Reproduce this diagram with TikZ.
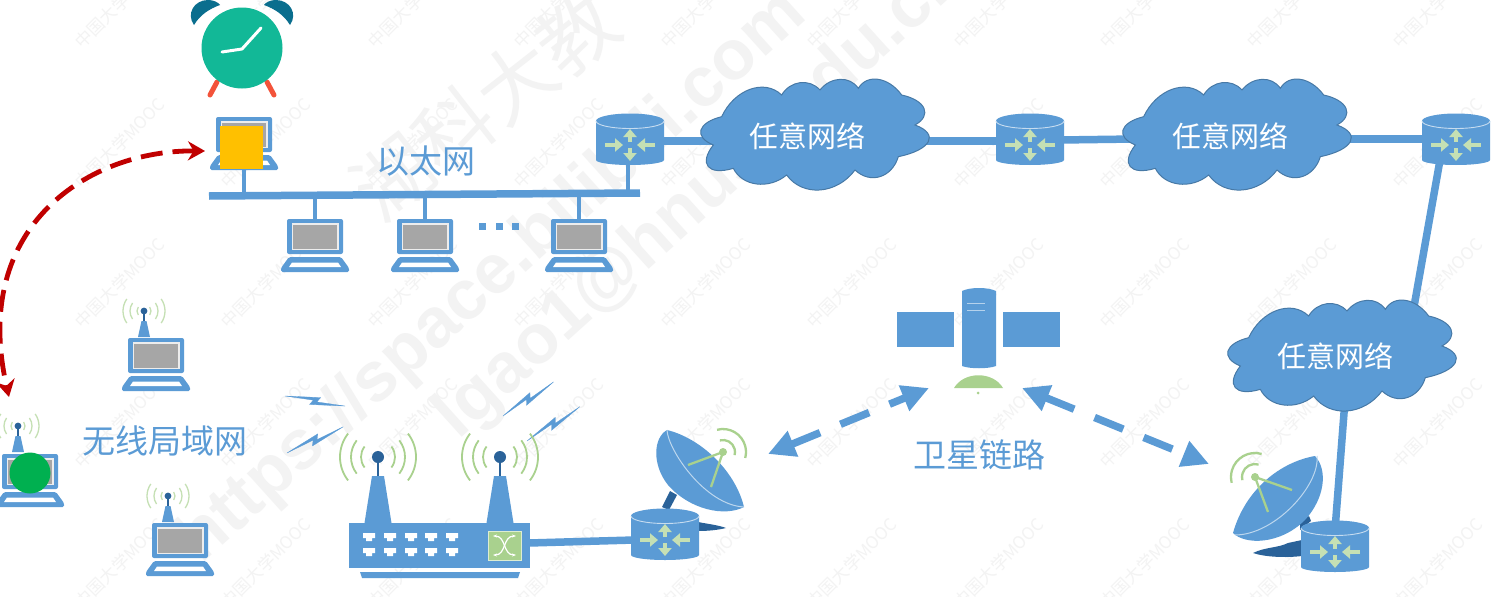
\documentclass[tikz,border=0pt]{standalone}
\usepackage{fontspec}
\setmainfont{Noto Sans CJK SC}
\newfontfamily\wmlatin{Liberation Sans}
\usetikzlibrary{arrows.meta,calc}
\definecolor{netblue}{HTML}{5B9BD5}
\definecolor{darkblue}{HTML}{2A6299}
\definecolor{leaf}{HTML}{A9D18E}
\definecolor{paleleaf}{HTML}{C5E0B4}
\definecolor{screen}{HTML}{A6A6A6}
\definecolor{wm}{HTML}{F3F3F3}
\definecolor{wmsmall}{HTML}{F3F3F3}
\definecolor{darkred}{HTML}{C00000}
\definecolor{amber}{HTML}{FFC000}
\definecolor{hostgreen}{HTML}{00B050}
\definecolor{bellblue}{HTML}{0A6E8E}
\definecolor{footred}{HTML}{F3533A}
\definecolor{clockteal}{HTML}{12B897}
\tikzset{
  link/.style={draw=netblue,line width=7.5pt},
  thinlink/.style={draw=netblue,line width=4.5pt},
  anchorbox/.style={inner sep=0pt,outer sep=0pt,minimum width=60pt},
  cloudtext/.style={inner sep=0pt,text=white,font=\fontsize{29}{31}\selectfont},
  lbl/.style={text=netblue,font=\fontsize{33}{35}\selectfont,inner sep=0pt},
  satlink/.style={draw=netblue,line width=7.5pt,dash pattern=on 31pt off 22pt,{Triangle[length=27pt,width=26pt]}-{Triangle[length=27pt,width=26pt]}},
  moved/.style={draw=darkred,line width=4.8pt,dash pattern=on 22pt off 10pt,{Stealth[length=17pt,width=19pt]}-{Stealth[length=17pt,width=19pt]}},
  sigstrong/.style={draw=leaf,line width=1.8pt},
  sigpale/.style={draw=paleleaf,line width=1.3pt},
  feed/.style={draw=leaf,line width=2.3pt},
  arrowmark/.style={draw=paleleaf,line width=3.5pt,-{Triangle[length=8pt,width=13pt]}},
  boltshape/.style={fill=netblue,draw=netblue,line width=.3pt},
  wmbig/.style={text=wm,font=\wmlatin\bfseries\fontsize{70}{72}\selectfont,rotate=42,inner sep=0pt},
  wmcjk/.style={text=wm,font=\fontsize{78}{80}\selectfont,rotate=38,inner sep=0pt},
  wmtiny/.style={text=wmsmall,font=\fontsize{17}{19}\selectfont,rotate=45,inner sep=0pt},
}
\newcommand{\lobe}[3]{.. controls ($1.3333*(#2)+0.0833*(#1)-0.4167*(#3)$) and ($1.3333*(#2)-0.4167*(#1)+0.0833*(#3)$) .. (#3)}
\newcommand{\cloudat}[2]{%
  \filldraw[fill=netblue,draw=netblue!78!black,line width=1pt,shift={(#1,#2)},scale=1/3]
    (365,350)
    \lobe{365,350}{450,268}{545,285}
    \lobe{545,285}{600,248}{660,270}
    \lobe{660,270}{720,238}{775,265}
    \lobe{775,265}{835,238}{905,285}
    \lobe{905,285}{972,325}{945,375}
    \lobe{945,375}{985,425}{895,470}
    \lobe{895,470}{840,530}{765,510}
    \lobe{765,510}{660,570}{560,525}
    \lobe{560,525}{470,552}{400,505}
    \lobe{400,505}{325,500}{340,435}
    \lobe{340,435}{303,390}{365,350}
    -- cycle;}
\newcommand{\lapicon}[2]{% cx, top
  \begin{scope}[shift={(#1,#2)}]
    \fill[netblue,rounded corners=2pt] (-28,0) rectangle (28,35);
    \fill[white!80!screen] (-23.5,4) rectangle (23.5,31);
    \fill[screen] (-22,5.5) rectangle (22,29.5);
    \fill[netblue,rounded corners=1.5pt] (-26,38) -- (26,38) -- (34,49) -- (34,53) -- (-34,53) -- (-34,49) -- cycle;
    \fill[white] (-23,43.5) -- (23,43.5) -- (26,48) -- (-26,48) -- cycle;
  \end{scope}}
\newcommand{\wifitop}[2]{% ball x, ball y
  \begin{scope}[shift={(#1,#2)}]
    \foreach \r in {7,14,21}{
      \draw[sigpale] (35:\r) arc[start angle=35,end angle=-35,radius=\r];
      \draw[sigpale] (145:\r) arc[start angle=145,end angle=215,radius=\r];
    }
    \draw[darkblue,line width=1.6pt] (0,0) -- (0,12);
    \fill[netblue] (-2.5,10) -- (2.5,10) -- (6,26) -- (-6,26) -- cycle;
    \fill[darkblue] (0,0) circle (3.4);
  \end{scope}}
\newcommand{\routericon}[2]{% cx, cy
  \begin{scope}[shift={(#1,#2)}]
    \fill[netblue] (-34,-18) -- (-34,21) arc[start angle=180,end angle=0,x radius=34,y radius=5] -- (34,-18) arc[start angle=0,end angle=-180,x radius=34,y radius=7.5] -- cycle;
    \draw[white!65!netblue,line width=.9pt] (-34,-18) arc[start angle=180,end angle=0,x radius=34,y radius=7.5];
    \draw[arrowmark] (0,3) -- (0,-10);
    \draw[arrowmark] (0,9) -- (0,22);
    \draw[arrowmark] (-25,6) -- (-7,6);
    \draw[arrowmark] (25,6) -- (7,6);
  \end{scope}}
\newcommand{\boltat}[4]{% x, y, rot, scale
  \fill[boltshape,shift={(#1,#2)},rotate=#3,scale=#4]
    (0,0) -- (58,-7) -- (53,1) -- (100,0) -- (42,7) -- (47,-1) -- cycle;}
\begin{document}
\begin{tikzpicture}[x=1pt,y=-1pt]
\useasboundingbox (0,0) rectangle (1500,597);
\fill[white] (0,0) rectangle (1500,597);
% watermark: small marks
\foreach \cx in {120,266,413,559,706,852,999,1145,1292,1438}{
  \foreach \cy in {3,143,283,423,563}{
    \node[wmtiny] (wm\cx\cy) at (\cx,\cy) {中国大学MOOC};
  }
}
% watermark: large
\node[wmcjk] (wma) at (485,105) {湖科大教};
\node[wmbig] (wmb) at (493,278) {https://space.bilibili.com};
\node[wmbig] (wmc) at (702,197) {lgao1@hnust.edu.cn};

% reference nodes
\node[anchorbox] (lapA) at (244,143) {};
\node[anchorbox] (lapB) at (315,245) {};
\node[anchorbox] (lapC) at (425,245) {};
\node[anchorbox] (lapD) at (579,245) {};
\node[anchorbox] (r1) at (630,139) {};
\node[anchorbox] (r2) at (1030,139) {};
\node[anchorbox] (r3) at (1456,139) {};
\node[anchorbox] (r4) at (665,534) {};
\node[anchorbox] (r5) at (1335,546) {};
\node[anchorbox] (sw) at (440,545) {};
\node[anchorbox] (sat) at (978,340) {};
\coordinate (busL) at (209,196);
\coordinate (busR) at (640,193);
\coordinate (lapAb) at (244,168);
\coordinate (lapBt) at (315,219);
\coordinate (lapCt) at (425,219);
\coordinate (lapDt) at (579,219);
\coordinate (busA) at (244,196);
\coordinate (busB) at (315,195);
\coordinate (busC) at (425,195);
\coordinate (busD) at (579,194);
\coordinate (busR1) at (628,194);
\coordinate (r1b) at (628,163);
\coordinate (r1r) at (660,141);
\coordinate (c1l) at (715,141);
\coordinate (c1r) at (915,141);
\coordinate (r2l) at (1000,141);
\coordinate (r2r) at (1060,140);
\coordinate (c2l) at (1135,139);
\coordinate (c2r) at (1340,139);
\coordinate (r3l) at (1426,139);
\coordinate (r3b) at (1440,160);
\coordinate (c3t) at (1412,318);
\coordinate (c3b) at (1345,400);
\coordinate (r5t) at (1335,530);
\coordinate (swr) at (529,543);
\coordinate (r4l) at (634,540);
\coordinate (satL) at (929,388);
\coordinate (satR) at (1022,388);
\coordinate (dishLs) at (768,454);
\coordinate (dishRs) at (1209,464);
\coordinate (redA) at (205,151);
\coordinate (redB) at (9,397);

% connectors
\draw[link] (busL) -- (busR);
\draw[thinlink] (lapAb) -- (busA);
\draw[thinlink] (busB) -- (lapBt);
\draw[thinlink] (busC) -- (lapCt);
\draw[thinlink] (busD) -- (lapDt);
\draw[thinlink] (busR1) -- (r1b);
\draw[link] (r1r) -- (c1l);
\draw[link] (c1r) -- (r2l);
\draw[link] (r2r) -- (c2l);
\draw[link] (c2r) -- (r3l);
\draw[link] (r3b) -- (c3t);
\draw[link] (c3b) -- (r5t);
\draw[link] (swr) -- (r4l);

% clouds
\cloudat{600}{0}
\cloudat{1022}{0}
\cloudat{1127}{221}
\node[cloudtext] (c1) at (807,136) {任意网络};
\node[cloudtext] (c2) at (1230,136) {任意网络};
\node[cloudtext] (c3) at (1335,356) {任意网络};

% laptops
\lapicon{244}{117}
\lapicon{315}{219}
\lapicon{425}{219}
\lapicon{579}{219}
\lapicon{156}{338}
\lapicon{30}{454}
\lapicon{180}{523}
\wifitop{144}{311}
\wifitop{18}{426}
\wifitop{168}{496}
\fill[netblue] (479,223) rectangle (486,230);
\fill[netblue] (496,223) rectangle (503,230);
\fill[netblue] (512,223) rectangle (519,230);

% routers
\routericon{630}{139}
\routericon{1030}{139}
\routericon{1456}{139}

% markers
\fill[amber] (220,126) rectangle (263,169);
\fill[hostgreen] (30,473) circle (20.5);

% clock
\fill[bellblue] (194,25) .. controls (186,14) and (194,0) .. (208,0) .. controls (213,0) and (218,2) .. (220,5) .. controls (209,9) and (200,15) .. cycle;
\fill[bellblue] (290,25) .. controls (298,14) and (290,0) .. (276,0) .. controls (271,0) and (266,2) .. (264,5) .. controls (275,9) and (284,15) .. cycle;
\draw[footred,line width=5pt,line cap=round] (217,82) -- (210,95);
\draw[footred,line width=5pt,line cap=round] (267,82) -- (274,95);
\fill[clockteal] (242,48) circle (40.5);
\draw[white,line width=3pt,line cap=round,line join=round] (222,52) -- (242,49) -- (261,28);

% lightning
\boltat{285}{396}{-9.5}{.61}
\boltat{287}{453}{25}{.62}
\boltat{503}{416}{34}{.61}
\boltat{527}{441}{33}{.63}

% switch
\foreach \x in {378,500}{
  \begin{scope}[shift={(\x,457)}]
    \foreach \r in {17,27,38}{
      \draw[sigstrong] (38:\r) arc[start angle=38,end angle=-38,radius=\r];
      \draw[sigstrong] (142:\r) arc[start angle=142,end angle=218,radius=\r];
    }
    \draw[darkblue,line width=2.8pt] (0,0) -- (0,20);
    \fill[netblue] (-6,19) -- (6,19) -- (13.5,66) -- (-13.5,66) -- cycle;
    \fill[darkblue] (0,0) circle (6);
  \end{scope}
}
\fill[netblue] (349,523) rectangle (530,568);
\fill[netblue] (360,572) -- (520,572) -- (518,578) -- (362,578) -- cycle;
\foreach \x in {369,390,411,431,452}{
  \foreach \y in {537,552}{
    \fill[white] (\x-6,\y-4) -- (\x+6,\y-4) -- (\x+6,\y+1) -- (\x+3,\y+1) -- (\x+3,\y+4) -- (\x-3,\y+4) -- (\x-3,\y+1) -- (\x-6,\y+1) -- cycle;
  }
}
\fill[leaf,draw=white!60!leaf,line width=.6pt] (488,531) rectangle (521,560);
\draw[white,line width=1.2pt,{Stealth[length=4pt]}-{Stealth[length=4pt]}] (493,536) .. controls (506,536) and (503,555) .. (516,555);
\draw[white,line width=1.2pt,{Stealth[length=4pt]}-{Stealth[length=4pt]}] (493,555) .. controls (506,555) and (503,536) .. (516,536);

% satellite
\fill[netblue] (897,312) rectangle (954,347);
\fill[netblue] (1003,312) rectangle (1060,347);
\fill[netblue] (962,291) .. controls (970,287) and (988,287) .. (996,291) -- (996,366) .. controls (988,369) and (970,369) .. (962,366) -- cycle;
\draw[white!55!netblue,line width=1pt] (967,303) -- (985,303);
\draw[white!55!netblue,line width=1pt] (967,310) -- (985,310);
\fill[leaf] (954,388) .. controls (964,371) and (993,371) .. (1003,388) -- cycle;
\fill[leaf] (978,393) circle (1.5);

% dish left
\fill[darkblue] (662,507) -- (670,491) -- (677,495) -- (669,510) -- cycle;
\fill[darkblue] (698,522) .. controls (708,524) and (718,525) .. (726,528) .. controls (718,530) and (708,531) .. (698,531) -- cycle;
\fill[netblue] (667,430) .. controls (700,438) and (735,470) .. (744,507) .. controls (725,517) and (690,510) .. (668,485) .. controls (652,465) and (653,438) .. (667,430) -- cycle;
\draw[white!60!netblue,line width=1pt] (667,430) .. controls (668,450) and (705,505) .. (744,507);
\routericon{665}{534}
\draw[feed] (723,452) -- (688,465);
\draw[feed] (723,452) -- (711,487);
\fill[leaf] (723,452) circle (4);
\draw[sigstrong,line width=2.3pt] (723,452) ++(-105:12) arc[start angle=-105,end angle=15,radius=12];
\draw[sigstrong,line width=2.3pt] (723,452) ++(-105:23) arc[start angle=-105,end angle=15,radius=23];

% dish right
\fill[darkblue] (1300,522) -- (1309,516) -- (1311,521) -- (1300,530) -- cycle;
\fill[darkblue] (1253,553) .. controls (1265,547) and (1278,548) .. (1288,543) -- (1302,540) -- (1302,556) .. controls (1285,558) and (1265,557) .. (1253,553) -- cycle;
\fill[netblue] (1315,456) .. controls (1280,462) and (1245,490) .. (1233,533) .. controls (1245,545) and (1280,545) .. (1305,520) .. controls (1325,498) and (1328,470) .. (1315,456) -- cycle;
\draw[white!60!netblue,line width=1pt] (1317,456) .. controls (1320,485) and (1275,535) .. (1235,535);
\draw[feed] (1255,477) -- (1292,490);
\draw[feed] (1255,477) -- (1268,512);
\fill[leaf] (1255,477) circle (4);
\draw[sigstrong,line width=2.3pt] (1255,477) ++(-74:13) arc[start angle=-74,end angle=-194,radius=13];
\draw[sigstrong,line width=2.3pt] (1255,477) ++(-74:24) arc[start angle=-74,end angle=-194,radius=24];
\routericon{1335}{546}

% satellite links
\draw[satlink] (dishLs) -- (satL);
\draw[satlink] (satR) -- (dishRs);

% moved-host arrow
\draw[moved] (redA) .. controls (90,150) and (-30,225) .. (redB);

% labels
\node[lbl] (eth) at (426,161) {以太网};
\node[lbl] (wlan) at (165,441) {无线局域网};
\node[lbl] (satl) at (979,455) {卫星链路};
\end{tikzpicture}
\end{document}
